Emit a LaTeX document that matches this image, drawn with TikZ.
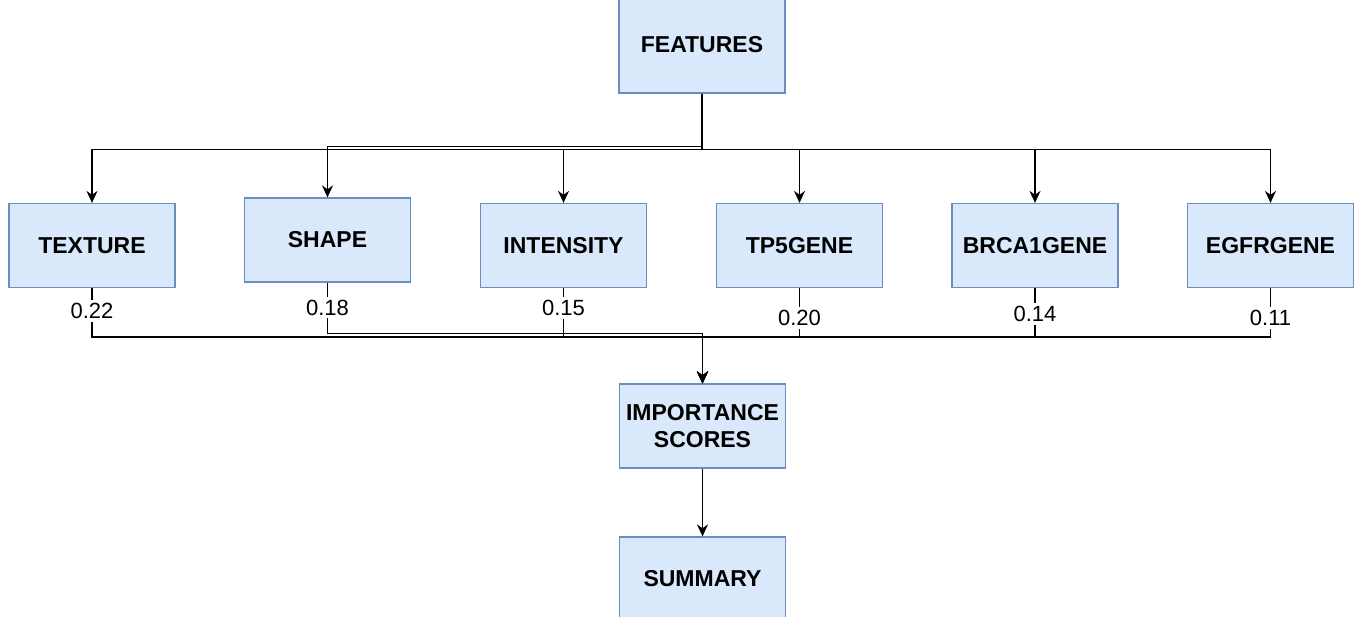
\documentclass[tikz,border=0pt]{standalone}
\usepackage{fontspec}
\setmainfont{Liberation Sans}
\usetikzlibrary{arrows.meta,positioning}
\definecolor{boxfill}{HTML}{DAE8FC}
\definecolor{boxline}{HTML}{6C8EBF}
\tikzset{
  feature box/.style = {draw=boxline, fill=boxfill, line width=0.6pt,
                        minimum width=83pt, minimum height=42pt, inner sep=2pt,
                        align=center, font=\fontsize{11.5}{13.5}\selectfont\bfseries},
  flow/.style        = {-{Stealth[length=6pt, width=5.5pt]}, black, line width=0.75pt},
  score/.style       = {fill=white, inner sep=1.5pt, font=\fontsize{11}{13}\selectfont},
}

\begin{document}
\begin{tikzpicture}[x=0.5pt, y=-0.5pt]
    \useasboundingbox (0,0) rectangle (1358,616);
    \node[feature box, minimum height=48pt] (features) at (702,45) {FEATURES};
    \node[feature box] (texture) at (92,245.5) {TEXTURE};
    \node[feature box] (shape) at (327.5,240) {SHAPE};
    \node[feature box] (intensity) at (563.5,245.5) {INTENSITY};
    \node[feature box] (tpgene) at (799.5,245.5) {TP5GENE};
    \node[feature box] (brcagene) at (1035,245.5) {BRCA1GENE};
    \node[feature box] (egfrgene) at (1270.5,245.5) {EGFRGENE};
    \node[feature box] (importance) at (702.5,426) {IMPORTANCE\\SCORES};
    \node[feature box] (summary) at (702.5,579) {SUMMARY};
    \draw[flow] (features.south) -- ++(0,56) -| (texture.north);
    \draw[flow] (features.south) -- ++(0,53) -| (shape.north);
    \draw[flow] (features.south) -- ++(0,56) -| (intensity.north);
    \draw[flow] (features.south) -- ++(0,56) -| (tpgene.north);
    \draw[flow] (features.south) -- ++(0,56) -| (brcagene.north);
    \draw[flow] (features.south) -- ++(0,56) -| (egfrgene.north);
    \draw[flow] (texture.south) -- node[score, pos=0.47] {0.22} ++(0,49) -| (importance.north);
    \draw[flow] (shape.south) -- node[score, pos=0.49] {0.18} ++(0,51) -| (importance.north);
    \draw[flow] (intensity.south) -- node[score, pos=0.41] {0.15} ++(0,49) -| (importance.north);
    \draw[flow] (tpgene.south) -- node[score, pos=0.61] {0.20} ++(0,49) -| (importance.north);
    \draw[flow] (brcagene.south) -- node[score, pos=0.53] {0.14} ++(0,49) -| (importance.north);
    \draw[flow] (egfrgene.south) -- node[score, pos=0.61] {0.11} ++(0,49) -| (importance.north);
    \draw[flow] (importance) -- (summary);
  \end{tikzpicture}
\end{document}
